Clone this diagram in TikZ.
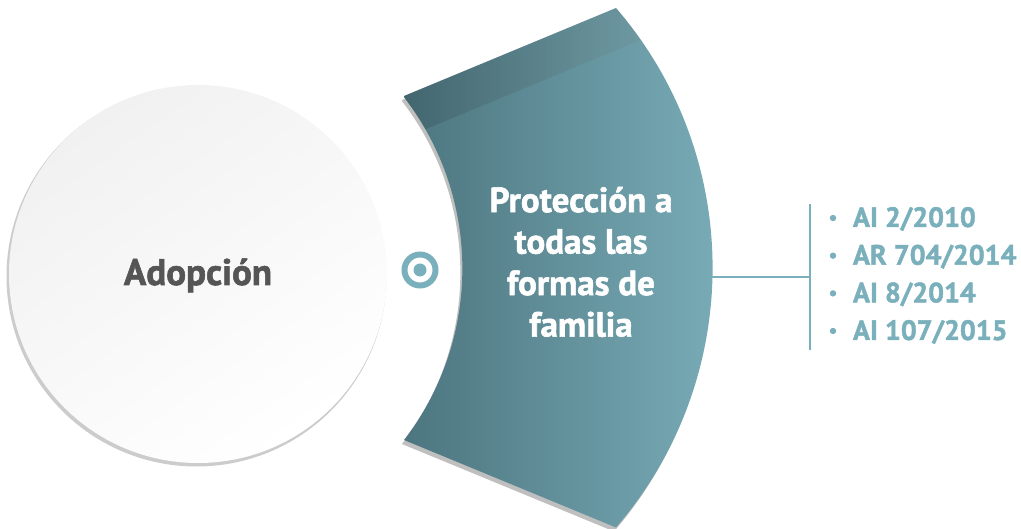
\documentclass[tikz,border=0pt]{standalone}
\usepackage{fontspec}
\setmainfont{PT Sans}[BoldFeatures={FakeBold=1.6}]
\usetikzlibrary{calc}
\usepackage{xcolor}
\newcommand{\bandoutline}{(404,96) -- (616,8) arc[start angle=-40.8, end angle=40.8, radius=397.5] -- (404,440) arc[start angle=37.6, end angle=-37.6, radius=281] -- cycle}

\begin{document}
\begin{tikzpicture}[x=1pt, y=-1pt, line width=2pt]
    \definecolor{tl}{RGB}{122,176,188}\definecolor{bandL}{RGB}{76,117,127}
    \definecolor{bandR}{RGB}{124,176,187}\definecolor{txtgray}{RGB}{85,85,85}
    \useasboundingbox (0,0) rectangle (1021,529);
    \coordinate (C0) at (198,274);
    \coordinate (bandE) at (712,277);
    \coordinate (barT) at (810,204);
    \coordinate (barM) at (810,277);
    \coordinate (barB) at (810,350);
    \fill[gray!40] ($(C0)+(-1.5,2.5)$) circle (190);
    \shade[top color=gray!11, bottom color=white, shading angle=35] (C0) circle (189);
    \fill[gray!50, shift={(-2,4)}] \bandoutline;
    \shade[left color=bandL, right color=bandR] \bandoutline;
    \begin{scope}
      \clip \bandoutline;
      \shade[left color=black, right color=black!40, opacity=0.13] (390,80) -- (720,-57) -- (720,7) -- (390,144) -- cycle;
    \end{scope}
    \node[circle, draw=tl, line width=6pt, minimum size=31pt, inner sep=0pt] (ring) at (420,270) {};
    \fill[tl] (ring.center) circle (6.5);
    \draw[tl] (bandE) -- (barM);
    \draw[tl] (barT) -- (barB);
    \node[txtgray, font=\bfseries\fontsize{37}{40}\selectfont, anchor=base] (adop) at (198,285) {Adopción};
    \node[white, font=\bfseries\fontsize{35}{41.5}\selectfont, align=center] (prot) at (581,262) {Protección a\\todas las\\formas de\\familia};
    \node[tl, font=\bfseries\fontsize{28}{32}\selectfont, anchor=base west, inner sep=0pt] (law1) at (852,227) {AI 2/2010};
    \node[tl, font=\bfseries\fontsize{28}{32}\selectfont, anchor=base west, inner sep=0pt] (law2) at (852,264.7) {AR 704/2014};
    \node[tl, font=\bfseries\fontsize{28}{32}\selectfont, anchor=base west, inner sep=0pt] (law3) at (852,302.4) {AI 8/2014};
    \node[tl, font=\bfseries\fontsize{28}{32}\selectfont, anchor=base west, inner sep=0pt] (law4) at (852,340) {AI 107/2015};
    \foreach \i in {1,...,4}
      \fill[tl] ($(law\i.base west)+(-19,-9)$) circle (3.2);
  \end{tikzpicture}
\end{document}
